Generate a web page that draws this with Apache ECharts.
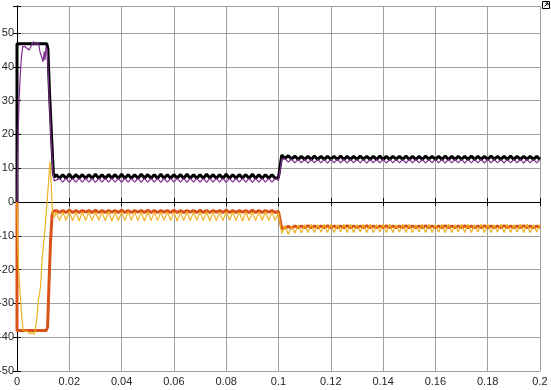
<!DOCTYPE html>
<html>
<head>
<meta charset="utf-8">
<script src="https://cdn.jsdelivr.net/npm/echarts@6/dist/echarts.min.js"></script>
<style>html,body{margin:0;padding:0;background:#fff}#c{width:551px;height:390px}</style>
</head>
<body>
<div id="c"></div>
<script>
// x ticks and y ticks
var xTicks = [0, 0.02, 0.04, 0.06, 0.08, 0.1, 0.12, 0.14, 0.16, 0.18, 0.2];
var yTicks = [-50, -40, -30, -20, -10, 0, 10, 20, 30, 40, 50];

// steady-state samples start at T0 with step DT
var T0 = 0.015, DT = 0.00125;

// transient parts [t, value]
var blackStart = [[0,0],[0,46.8],[0.0114,46.8],[0.0118,45.5],[0.0124,33],[0.0133,18],[0.0139,8.5],[0.0143,7.4]];
var purpleStart = [[0,0],[0.0004,20],[0.0008,30],[0.0012,37],[0.0017,43],[0.0022,46],[0.003,46],[0.0046,45],[0.0053,45.5],[0.0063,47.5],[0.0069,46.5],[0.0076,46.8],[0.0082,47],[0.0088,44.4],[0.0094,44],[0.0100,41.5],[0.0104,44.5],[0.0107,42],[0.0111,46],[0.0116,45],[0.0122,33],[0.0131,18],[0.0138,8],[0.0143,6.2]];
var orangeStart = [[0,0],[0,-38],[0.0112,-38],[0.0117,-37],[0.0122,-25],[0.0128,-12],[0.0134,-4],[0.0138,-2.8]];
var yellowStart = [[0,0],[0.0003,-12],[0.0006,-20],[0.0012,-27],[0.0018,-34],[0.0024,-38],[0.003,-38.5],[0.004,-38.3],[0.005,-39],[0.0058,-38.6],[0.0064,-39.2],[0.0069,-38.5],[0.0075,-35],[0.0082,-29],[0.009,-25],[0.0096,-17],[0.0107,-8],[0.0117,2],[0.0126,12],[0.0131,5],[0.0136,-3],[0.0142,-4.5]];

// steady parts (t = T0 + i*DT), 149 samples up to 0.2
var blackSteady = [
8.1,7.0,8.1,7.0,8.2,7.0,8.1,7.1,8.1,7.0, 8.1,7.0,8.2,7.0,8.1,7.0,8.1,7.1,8.1,7.0,
8.2,7.0,8.1,7.0,8.1,7.0,8.2,7.1,8.1,7.0, 8.1,7.0,8.2,7.0,8.1,7.0,8.1,7.1,8.1,7.0,
8.2,7.0,8.1,7.0,8.1,7.0,8.2,7.1,8.1,7.0, 8.1,7.0,8.2,7.0,8.1,7.0,8.1,7.1,8.1,7.0,
8.2,7.0,8.1,7.0,8.1,7.0,8.1,7.0,7.3,
13.9,12.9,13.7,12.7,13.6,12.6,13.5,12.6,13.5,12.6, 13.6,12.6,13.5,12.6,13.5,12.7,13.5,12.6,13.6,12.6,
13.5,12.6,13.5,12.6,13.6,12.7,13.5,12.6,13.5,12.6, 13.6,12.6,13.5,12.6,13.5,12.7,13.5,12.6,13.6,12.6,
13.5,12.6,13.5,12.6,13.6,12.7,13.5,12.6,13.5,12.6, 13.6,12.6,13.5,12.6,13.5,12.7,13.5,12.6,13.6,12.6,
13.5,12.6,13.5,12.6,13.6,12.7,13.5,12.6,13.5,12.6, 13.6,12.6,13.5,12.6,13.5,12.7,13.5,12.6,13.5,12.6
];
var purpleSteady = [
5.9,7.0,5.9,7.0,5.8,7.0,5.9,7.0,5.9,7.0, 5.9,7.0,5.8,7.0,5.9,7.0,5.9,7.0,5.9,7.0,
5.8,7.0,5.9,7.0,5.9,7.0,5.8,7.0,5.9,7.0, 5.9,7.0,5.8,7.0,5.9,7.0,5.9,7.0,5.9,7.0,
5.8,7.0,5.9,7.0,5.9,7.0,5.8,7.0,5.9,7.0, 5.9,7.0,5.8,7.0,5.9,7.0,5.9,7.0,5.9,7.0,
5.8,7.0,5.9,7.0,5.9,7.0,5.9,7.0,6.4,
12.6,12.8,11.8,12.7,11.6,12.6,11.6,12.6,11.5,12.6, 11.6,12.6,11.6,12.6,11.5,12.6,11.6,12.6,11.6,12.6,
11.5,12.6,11.6,12.6,11.6,12.6,11.5,12.6,11.6,12.6, 11.6,12.6,11.5,12.6,11.6,12.6,11.6,12.6,11.5,12.6,
11.6,12.6,11.6,12.6,11.5,12.6,11.6,12.6,11.6,12.6, 11.5,12.6,11.6,12.6,11.6,12.6,11.5,12.6,11.6,12.6,
11.6,12.6,11.5,12.6,11.6,12.6,11.6,12.6,11.5,12.6, 11.6,12.6,11.6,12.6,11.5,12.6,11.6,12.6,11.6,12.6
];
var orangeSteady = [
-2.5,-3.1,-2.5,-3.1,-2.4,-3.1,-2.5,-3.1,-2.5,-3.0, -2.5,-3.1,-2.4,-3.1,-2.5,-3.1,-2.5,-3.0,-2.5,-3.1,
-2.4,-3.1,-2.5,-3.1,-2.5,-3.0,-2.5,-3.1,-2.4,-3.1, -2.5,-3.1,-2.5,-3.0,-2.5,-3.1,-2.4,-3.1,-2.5,-3.1,
-2.5,-3.0,-2.5,-3.1,-2.4,-3.1,-2.5,-3.1,-2.5,-3.0, -2.5,-3.1,-2.4,-3.1,-2.5,-3.1,-2.5,-3.0,-2.5,-3.1,
-2.4,-3.1,-2.5,-3.1,-2.5,-3.0,-2.5,-3.1,-2.8,
-7.9,-7.6,-7.2,-7.7,-7.1,-7.6,-7.1,-7.6,-7.0,-7.6, -7.1,-7.6,-7.1,-7.6,-7.0,-7.6,-7.1,-7.6,-7.1,-7.6,
-7.0,-7.6,-7.1,-7.6,-7.1,-7.6,-7.0,-7.6,-7.1,-7.6, -7.1,-7.6,-7.0,-7.6,-7.1,-7.6,-7.1,-7.6,-7.0,-7.6,
-7.1,-7.6,-7.1,-7.6,-7.0,-7.6,-7.1,-7.6,-7.1,-7.6, -7.0,-7.6,-7.1,-7.6,-7.1,-7.6,-7.0,-7.6,-7.1,-7.6,
-7.1,-7.6,-7.0,-7.6,-7.1,-7.6,-7.1,-7.6,-7.0,-7.6, -7.1,-7.6,-7.1,-7.6,-7.0,-7.6,-7.1,-7.6,-7.1,-7.6
];
var yellowSteady = [
-3.0,-5.5,-3.0,-5.4,-2.9,-5.5,-3.0,-5.6,-3.0,-5.5, -2.9,-5.5,-3.0,-5.4,-3.0,-5.5,-2.9,-5.6,-3.0,-5.5,
-3.0,-5.5,-2.9,-5.4,-3.0,-5.5,-3.0,-5.6,-2.9,-5.5, -3.0,-5.5,-3.0,-5.4,-2.9,-5.5,-3.0,-5.6,-3.0,-5.5,
-2.9,-5.5,-3.0,-5.4,-3.0,-5.5,-2.9,-5.6,-3.0,-5.5, -3.0,-5.5,-2.9,-5.4,-3.0,-5.5,-3.0,-5.6,-2.9,-5.5,
-3.0,-5.5,-3.0,-5.4,-2.9,-5.5,-3.0,-5.5,-3.2,
-9.3,-7.0,-9.6,-7.2,-9.2,-6.8,-9.1,-6.7,-9.0,-6.6, -9.0,-6.7,-8.9,-6.6,-9.0,-6.6,-9.0,-6.7,-8.9,-6.6,
-9.0,-6.6,-9.0,-6.7,-8.9,-6.6,-9.0,-6.6,-9.0,-6.7, -8.9,-6.6,-9.0,-6.6,-9.0,-6.7,-8.9,-6.6,-9.0,-6.6,
-9.0,-6.7,-8.9,-6.6,-9.0,-6.6,-9.0,-6.7,-8.9,-6.6, -9.0,-6.6,-9.0,-6.7,-8.9,-6.6,-9.0,-6.6,-9.0,-6.7,
-8.9,-6.6,-9.0,-6.6,-9.0,-6.7,-8.9,-6.6,-9.0,-6.6, -9.0,-6.7,-8.9,-6.6,-9.0,-6.6,-9.0,-6.7,-8.9,-6.6
];

function build(start, steady) {
  return start.concat(steady.map(function (v, i) { return [+(T0 + i * DT).toFixed(5), v]; }));
}

var chart = echarts.init(document.getElementById('c'), null, {renderer: 'canvas'});
var lblFont = {color: '#262626', fontSize: 11, fontFamily: 'Liberation Sans, Arial, sans-serif'};
var axisLine = {show: true, lineStyle: {color: '#000', width: 1}};
var grid = {left: 17, right: 11, top: 6, bottom: 19, containLabel: false, outerBoundsMode: 'none'};

function line(name, data, color, width, z) {
  return {name: name, type: 'line', data: data, showSymbol: false, symbol: 'none',
    lineStyle: {color: color, width: width}, itemStyle: {color: color}, z: z, animation: false, clip: true};
}

chart.setOption({
  backgroundColor: '#fff',
  animation: false,
  grid: grid,
  xAxis: [{
    type: 'value', min: 0, max: 0.2, interval: 0.02, position: 'bottom',
    axisLine: axisLine,
    axisTick: {show: true, inside: true, length: 4, lineStyle: {color: '#000'}},
    splitLine: {show: true, lineStyle: {color: '#a0a0a0', width: 1}},
    axisLabel: Object.assign({margin: 5, formatter: function (v) {
      var s = xTicks.filter(function (t) { return Math.abs(t - v) < 1e-9; });
      return s.length ? (v === 0 ? '0' : String(+v.toFixed(2))) : '';
    }}, lblFont)
  }, {
    type: 'value', min: 0, max: 0.2, interval: 0.02, position: 'top',
    axisLine: axisLine,
    axisTick: {show: true, inside: true, length: 4, lineStyle: {color: '#000'}},
    splitLine: {show: false}, axisLabel: {show: false}
  }],
  yAxis: [{
    type: 'value', min: -50, max: 58, interval: 10, position: 'left',
    axisLine: axisLine,
    axisTick: {show: true, inside: true, length: 4, lineStyle: {color: '#000'}},
    splitLine: {show: true, lineStyle: {color: '#a0a0a0', width: 1}},
    axisLabel: Object.assign({margin: 3, formatter: function (v) {
      return yTicks.indexOf(v) >= 0 ? String(v) : '';
    }}, lblFont)
  }, {
    type: 'value', min: -50, max: 58, interval: 10, position: 'right',
    axisLine: axisLine,
    axisTick: {show: true, inside: true, length: 4, lineStyle: {color: '#000'}},
    splitLine: {show: false}, axisLabel: {show: false}
  }],
  graphic: [
    {type: 'rect', shape: {x: 542.5, y: 1.5, width: 7, height: 7}, style: {fill: '#fff', stroke: '#000', lineWidth: 1}, z: 100},
    {type: 'polyline', shape: {points: [[544.5, 6.5], [548, 3]]}, style: {stroke: '#000', lineWidth: 1, fill: null}, z: 101},
    {type: 'polyline', shape: {points: [[545.5, 3], [548, 3], [548, 5.5]]}, style: {stroke: '#000', lineWidth: 1, fill: null}, z: 101}
  ],
  series: [
    line('ref1', build(blackStart, blackSteady), '#000000', 3, 2),
    line('ref2', build(orangeStart, orangeSteady), '#D95319', 3, 3),
    line('meas1', build(purpleStart, purpleSteady), '#7E2F8E', 1.2, 4),
    line('meas2', build(yellowStart, yellowSteady), '#EDB120', 1.2, 5)
  ]
});
</script>
</body>
</html>
